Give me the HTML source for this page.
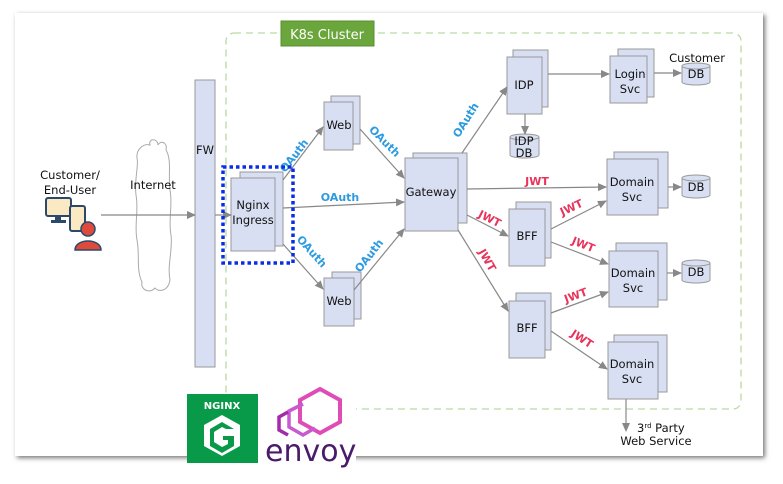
<!DOCTYPE html>
<html><head><meta charset="utf-8"><style>
html,body{margin:0;padding:0;background:#fff;width:783px;height:484px;overflow:hidden}
svg{display:block}
text{font-family:"DejaVu Sans","Liberation Sans",sans-serif}
</style></head><body>
<svg width="783" height="484" viewBox="0 0 783 484">
<defs>
<marker id="a" markerWidth="10" markerHeight="10" refX="8" refY="4" orient="auto" markerUnits="userSpaceOnUse"><path d="M0,0 L9,4 L0,8 Z" fill="#888"/></marker>
<filter id="sh" x="-5%" y="-5%" width="110%" height="110%"><feDropShadow dx="2" dy="2" stdDeviation="2.5" flood-color="#555" flood-opacity="0.8"/></filter>
</defs>
<rect x="15" y="13" width="748" height="443" fill="#fff" filter="url(#sh)"/>
<rect x="226" y="33" width="515" height="376" rx="8" fill="none" stroke="#b9d9a3" stroke-width="1.3" stroke-dasharray="7,5"/>
<rect x="281" y="21" width="93" height="25" fill="#6aa63b" stroke="#5a8f30"/>
<text x="327" y="39" fill="#fff" font-size="13" text-anchor="middle">K8s Cluster</text>
<path d="M150,145 C148,138 158,138 158,145 C160,140 168,142 166,150 C172,160 168,175 170,190 C173,205 168,220 171,235 C173,250 167,265 170,280 C168,292 158,292 155,288 C150,294 140,290 142,282 C136,270 140,255 137,240 C134,225 139,210 136,195 C134,180 139,165 137,158 C136,150 143,143 150,145 Z" fill="#fff" stroke="#aaa" stroke-width="1"/>
<text x="153" y="189" font-size="11.5" text-anchor="middle" fill="#111">Internet</text>
<text x="70" y="179" font-size="11.5" text-anchor="middle" fill="#111">Customer/</text>
<text x="70" y="194" font-size="11.5" text-anchor="middle" fill="#111">End-User</text>
<rect x="46" y="198" width="25" height="18" rx="2" fill="#fbe9c4" stroke="#2b4a6b" stroke-width="2"/>
<rect x="55" y="216" width="6" height="4" fill="#2b4a6b"/><rect x="51" y="220" width="15" height="3" fill="#2b4a6b"/>
<rect x="70" y="206" width="15" height="25" rx="2" fill="#fbe9c4" stroke="#2b4a6b" stroke-width="2"/>
<circle cx="88" cy="229" r="7" fill="#e04a3a" stroke="#2b4a6b" stroke-width="1.5"/>
<path d="M75,250 C75,238 101,238 101,250 Z" fill="#e04a3a" stroke="#2b4a6b" stroke-width="1.5"/>
<rect x="195" y="80" width="20" height="287" fill="#d9dff2" stroke="#999"/>
<text x="205" y="154" font-size="11.5" text-anchor="middle" fill="#111">FW</text>
<g fill="#d9dff2" stroke="#999" stroke-width="1">
<rect x="240" y="172" width="43" height="74"/><rect x="231" y="178" width="44" height="73"/>
<rect x="331" y="96" width="29" height="48"/><rect x="324" y="102" width="29" height="48"/>
<rect x="332" y="272" width="29" height="47"/><rect x="324" y="278" width="30" height="48"/>
<rect x="413" y="153" width="54" height="70"/><rect x="405" y="158" width="53" height="73"/>
<rect x="513" y="50" width="35" height="57"/><rect x="507" y="57" width="35" height="57"/>
<rect x="618" y="49" width="36" height="48"/><rect x="610" y="56" width="37" height="47"/>
<rect x="614" y="152" width="54" height="56"/><rect x="607" y="159" width="51" height="56"/>
<rect x="516" y="202" width="35" height="56"/><rect x="509" y="209" width="36" height="57"/>
<rect x="516" y="293" width="35" height="57"/><rect x="509" y="301" width="36" height="57"/>
<rect x="616" y="243" width="51" height="57"/><rect x="609" y="251" width="49" height="56"/>
<rect x="614" y="335" width="53" height="57"/><rect x="608" y="342" width="50" height="57"/>
</g>
<g font-size="11.5" text-anchor="middle" fill="#111">
<text x="253" y="209">Nginx</text><text x="253" y="224">Ingress</text>
<text x="339" y="129">Web</text><text x="339" y="305">Web</text>
<text x="431" y="196">Gateway</text>
<text x="524" y="89">IDP</text>
<text x="630" y="78">Login</text><text x="630" y="93">Svc</text>
<text x="632" y="186">Domain</text><text x="632" y="201">Svc</text>
<text x="527" y="240">BFF</text><text x="527" y="332">BFF</text>
<text x="633" y="277">Domain</text><text x="633" y="292">Svc</text>
<text x="632" y="368">Domain</text><text x="632" y="383">Svc</text>
<text x="697" y="62">Customer</text>
<text x="637" y="432" text-anchor="start">3<tspan font-size="7" dy="-4">rd</tspan><tspan dy="4"> Party</tspan></text>
<text x="656" y="445">Web Service</text>
</g>
<g fill="#d9dff2" stroke="#999">
<path d="M682,66 v16 a14,3 0 0 0 28,0 v-16"/><ellipse cx="696" cy="66" rx="14" ry="3"/>
<path d="M510,137 v18 a14.5,3 0 0 0 29,0 v-18"/><ellipse cx="524.5" cy="137" rx="14.5" ry="3"/>
<path d="M682,178 v17 a14,3 0 0 0 28,0 v-17"/><ellipse cx="696" cy="178" rx="14" ry="3"/>
<path d="M682,263 v17 a14,3 0 0 0 28,0 v-17"/><ellipse cx="696" cy="263" rx="14" ry="3"/>
</g>
<g font-size="11.5" text-anchor="middle" fill="#111">
<text x="696" y="78">DB</text>
<text x="524" y="145">IDP</text><text x="524" y="157">DB</text>
<text x="696" y="191">DB</text><text x="696" y="276">DB</text>
</g>
<g stroke="#888" stroke-width="1.2" fill="none" marker-end="url(#a)">
<line x1="101" y1="215" x2="195" y2="215"/>
<line x1="215" y1="215" x2="231" y2="215"/>
<line x1="283" y1="180" x2="323" y2="127"/>
<line x1="283" y1="208" x2="404" y2="202"/>
<line x1="283" y1="244" x2="323" y2="289"/>
<line x1="360" y1="129" x2="404" y2="178"/>
<line x1="354" y1="290" x2="404" y2="229"/>
<line x1="462" y1="153" x2="507" y2="87"/>
<line x1="548" y1="74" x2="609" y2="74"/>
<line x1="654" y1="73" x2="681" y2="73"/>
<line x1="525" y1="114" x2="525" y2="134"/>
<line x1="467" y1="189" x2="606" y2="187"/>
<line x1="467" y1="215" x2="508" y2="236"/>
<line x1="458" y1="230" x2="508" y2="311"/>
<line x1="551" y1="229" x2="606" y2="201"/>
<line x1="551" y1="242" x2="608" y2="264"/>
<line x1="551" y1="313" x2="608" y2="292"/>
<line x1="551" y1="331" x2="607" y2="369"/>
<line x1="668" y1="187" x2="681" y2="187"/>
<line x1="667" y1="273" x2="681" y2="273"/>
<line x1="626" y1="399" x2="626" y2="431"/>
</g>
<g font-size="11" fill="#2e9be0" font-weight="bold" text-anchor="middle">
<text transform="translate(297,158) rotate(-52)">OAuth</text>
<text x="340" y="201">OAuth</text>
<text transform="translate(309,254) rotate(48)">OAuth</text>
<text transform="translate(382,144) rotate(45)">OAuth</text>
<text transform="translate(372,258) rotate(-52)">OAuth</text>
<text transform="translate(469,122) rotate(-58)">OAuth</text>
</g>
<g font-size="11" fill="#e8335a" font-weight="bold" text-anchor="middle">
<text x="537" y="185">JWT</text>
<text transform="translate(488,222) rotate(27)">JWT</text>
<text transform="translate(484,262) rotate(60)">JWT</text>
<text transform="translate(573,211) rotate(-25)">JWT</text>
<text transform="translate(582,248) rotate(22)">JWT</text>
<text transform="translate(577,299) rotate(-20)">JWT</text>
<text transform="translate(580,342) rotate(33)">JWT</text>
</g>
<rect x="223" y="167" width="70" height="96" fill="none" stroke="#0a2ee6" stroke-width="3.5" stroke-dasharray="3.5,3"/>
<rect x="187" y="394" width="71" height="69" fill="#089a48"/>
<text x="222" y="409" font-size="10" font-weight="bold" fill="#fff" text-anchor="middle" font-family="Liberation Sans">NGINX</text>
<path d="M222,415 l18,10 v21 l-18,10 l-18,-10 v-21 Z" fill="#fff"/>
<path d="M222,422 l12,7 h-8 l-4,-2 l-8,5 v10 l8,5 l6,-3 v-4 h-5 v-4 h11 v10 l-12,7 l-12,-7 v-17 Z" fill="#089a48"/>
<rect x="258" y="388" width="98" height="82" fill="#fff"/>
<g fill="none">
<path d="M320,389 l20,11 v22 l-20,11 l-20,-11 v-22 Z" stroke="#e04cb5" stroke-width="4"/>
<path d="M303,404 l-14,7 v16 l14,8 l12,-7" stroke="#c75ad0" stroke-width="3.5"/>
<path d="M288,412 l-9,5 v13 l9,5" stroke="#a32aa8" stroke-width="3.5"/>
</g>
<text x="265" y="461" font-size="30" fill="#4a1a6b" font-family="Liberation Sans">envoy</text>
</svg>
</body></html>
